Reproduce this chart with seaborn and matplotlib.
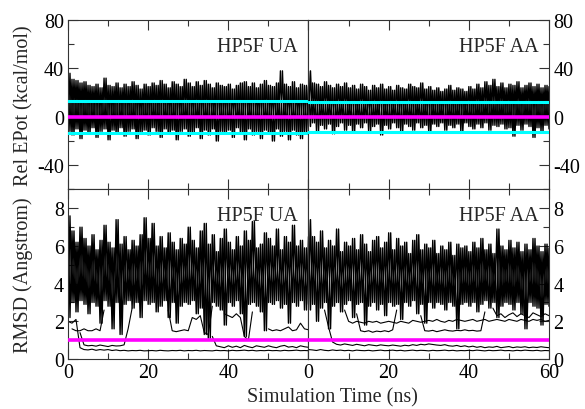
import numpy as np
import pandas as pd
import matplotlib
matplotlib.use("Agg")
import matplotlib.pyplot as plt
import seaborn as sns
from matplotlib.ticker import MultipleLocator

nan = np.nan
time_ns = list(range(61))  # one reading per ns, 0..60

# --- Rel EPot (kcal/mol): peak / trough of the noisy trace in each ns ---
epot_ua_hi = [36, 31, 30, 28, 29, 26, 25, 27, 24, 32,
              26, 25, 28, 24, 27, 25, 29, 26, 23, 27,
              25, 28, 26, 30, 27, 24, 29, 27, 25, 31,
              28, 25, 29, 26, 30, 27, 24, 28, 26, 25,
              27, 23, 26, 28, 29, 25, 28, 24, 27, 30,
              26, 25, 28, 38, 27, 25, 29, 24, 27, 26, 25]
epot_ua_lo = [-12, -15, -10, -18, -11, -14, -9, -17, -12, -10,
              -19, -11, -14, -9, -16, -12, -10, -18, -13, -11,
              -15, -9, -12, -17, -10, -14, -11, -19, -12, -10,
              -16, -13, -9, -18, -11, -15, -10, -20, -12, -14,
              -11, -17, -9, -13, -19, -10, -15, -12, -18, -11,
              -14, -20, -10, -16, -12, -19, -11, -15, -18, -13, -12]
epot_aa_hi = [38, 28, 27, 25, 29, 26, 24, 27, 25, 28,
              24, 26, 23, 27, 25, 22, 26, 24, 27, 23,
              25, 22, 26, 24, 23, 27, 25, 24, 28, 23,
              25, 22, 24, 21, 23, 26, 22, 24, 23, 21,
              25, 23, 27, 24, 29, 26, 31, 25, 28, 24,
              27, 26, 29, 24, 26, 28, 25, 27, 24, 26, 25]
epot_aa_lo = [-8, -5, -12, -7, -10, -6, -14, -8, -5, -11,
              -7, -13, -6, -9, -5, -12, -8, -6, -15, -7,
              -10, -5, -9, -12, -6, -8, -11, -5, -9, -7,
              -13, -6, -8, -5, -11, -7, -9, -6, -12, -5,
              -8, -10, -6, -9, -5, -11, -7, -8, -6, -10,
              -9, -16, -7, -11, -6, -8, -17, -9, -12, -7, -10]
epot_ua_band = [12.8, -13.6]   # cyan lines
epot_aa_band = [12.2, -12.2]
epot_ref = 0.0                 # magenta line

# --- RMSD (Angstrom): bulk of trajectories, peak / trough per ns ---
rmsd_ua_hi = [7.6, 6.8, 6.2, 7.0, 6.4, 6.0, 6.6, 5.8, 6.3, 7.1,
              6.2, 5.9, 7.4, 6.1, 6.5, 5.8, 6.3, 6.0, 6.6, 7.5,
              6.4, 7.2, 6.0, 6.5, 5.9, 6.7, 6.2, 5.8, 6.4, 6.1,
              7.0, 6.3, 5.9, 6.8, 7.2, 6.1, 6.6, 5.7, 6.4, 6.9,
              6.2, 5.8, 6.5, 6.0, 6.8, 6.3, 7.3, 5.9, 6.1, 6.7,
              6.4, 6.0, 6.9, 5.8, 6.5, 6.2, 7.1, 6.0, 6.3, 5.9, 6.5]
rmsd_ua_lo = [2.2, 3.0, 2.5, 3.1, 2.9, 2.4, 3.0, 2.8, 1.9, 3.1,
              2.8, 1.6, 3.0, 1.3, 2.9, 3.1, 2.7, 3.0, 2.2, 3.1,
              2.9, 3.0, 2.5, 2.8, 3.1, 2.2, 3.0, 1.9, 2.8, 3.0,
              2.9, 3.1, 2.4, 2.7, 1.3, 1.1, 3.0, 2.8, 2.6, 1.8,
              3.0, 2.8, 3.1, 2.4, 1.2, 2.9, 3.0, 2.8, 2.5, 1.5,
              3.0, 2.9, 3.1, 2.7, 2.9, 1.9, 3.0, 2.8, 3.1, 2.6, 2.9]
rmsd_aa_hi = [7.4, 6.5, 6.2, 6.8, 5.9, 6.3, 6.0, 6.9, 5.7, 6.2,
              6.0, 6.4, 5.8, 6.6, 6.1, 5.7, 6.3, 6.5, 5.9, 6.2,
              6.7, 5.8, 6.4, 6.0, 6.2, 5.6, 6.3, 6.6, 5.8, 6.1,
              5.9, 6.3, 5.6, 6.0, 5.8, 6.2, 5.5, 6.1, 5.9, 6.0,
              5.7, 6.2, 5.9, 6.4, 5.8, 6.1, 5.6, 6.9, 6.0, 5.8,
              6.3, 5.9, 6.2, 5.7, 6.1, 5.8, 6.4, 6.0, 5.7, 6.1, 5.9]
rmsd_aa_lo = [2.6, 2.9, 2.0, 2.7, 3.0, 1.6, 2.8, 3.0, 2.5, 2.9,
              3.1, 2.2, 2.9, 3.0, 1.8, 2.8, 3.0, 2.6, 2.9, 2.3,
              3.0, 2.8, 2.9, 2.1, 3.0, 2.8, 3.1, 2.4, 2.9, 1.9,
              3.0, 2.7, 3.0, 2.9, 2.6, 3.0, 2.8, 1.6, 2.9, 3.0,
              2.8, 3.0, 2.5, 2.9, 3.1, 2.7, 3.0, 2.2, 2.8, 3.0,
              2.9, 2.6, 3.0, 2.4, 1.6, 3.0, 2.8, 2.7, 1.8, 2.9, 2.8]

# --- RMSD: trajectories that sit below the bulk (nan = inside the bulk) ---
rmsd_ua_low = [
    [2.0, 1.9, 2.1, 0.6, 0.5, 0.48, 0.52, 0.46, 0.5, 0.47,
     0.5, 0.45, 0.48, 0.44, 0.46, 0.43, 0.45, 0.44, 0.46, 0.43,
     0.44, 0.45, 0.43, 0.46, 0.44, 0.43, 0.45, 0.44, 0.46, 0.43,
     0.45, 0.44, 0.46, 0.43, 0.45, 0.44, 0.43, 0.46, 0.44, 0.45,
     0.43, 0.46, 0.44, 0.45, 0.47, 0.44, 0.46, 0.43, 0.45, 0.44,
     0.46, 0.44, 0.45, 0.43, 0.46, 0.44, 0.45, 0.47, 0.44, 0.45, 0.44],
    [nan, 1.6, 1.5, 1.5, 1.6, 1.5, 1.5, 1.6, 1.5, 2.6]
    + [nan] * 26
    + [1.2, 0.7, 0.65, 0.6, 0.7, 0.62, 0.68, 0.6, 0.72, 0.65,
       0.6, 0.7, 0.66, 0.62, 0.7, 0.64, 0.6, 0.68, 0.72, 0.63,
       0.66, 0.6, 0.7, 0.65, 0.62],
    [nan, nan, nan, 1.4, 0.75, 0.7, 0.72, 0.68, 0.74, 0.7,
     0.66, 0.72, 0.69, 0.7, 0.75, 1.6, 2.7]
    + [nan] * 8
    + [2.6, 1.5, 1.45, 1.5, 1.55, 1.5, 2.2, 2.1, 2.3, 1.4, 1.3, 2.8]
    + [nan] * 24,
    [nan] * 39
    + [2.4, 2.3, 2.2, 2.4, 2.2, 1.2, 1.0, 2.5, nan, nan, nan,
       1.6, 1.5, 1.55, 1.5, 1.6, 1.7, 1.5, 1.55, 1.9, 1.6, 1.55],
]
rmsd_aa_low = [
    [0.5, 0.48, 0.45, 0.5, 0.46, 0.44, 0.48, 0.45, 0.47, 0.44,
     0.46, 0.43, 0.47, 0.45, 0.44, 0.46, 0.43, 0.45, 0.47, 0.44,
     0.45, 0.47, 0.44, 0.46, 0.43, 0.45, 0.47, 0.44, 0.46, 0.45,
     0.43, 0.46, 0.44, 0.45, 0.47, 0.44, 0.46, 0.43, 0.45, 0.44,
     0.46, 0.44, 0.47, 0.45, 0.43, 0.46, 0.44, 0.45, 0.47, 0.44,
     0.45, 0.43, 0.46, 0.44, 0.47, 0.45, 0.44, 0.46, 0.43, 0.45, 0.44],
    [nan, nan, nan, nan, 2.6, 1.7, 0.9, 0.78, 0.74, 0.8,
     0.76, 0.72, 0.78, 0.74, 0.7, 0.76, 0.73, 0.7, 0.75, 0.72,
     0.7, 0.74, 0.71, 0.68, 0.73, 0.7, 0.76, 0.72, 0.78, 0.75,
     0.8, 0.77, 0.74, 0.72, 0.76, 0.7, 0.68, 0.72, 0.66, 0.7,
     0.64, 0.68, 0.62, 0.66, 0.6, 0.64, 0.62, 0.67, 0.6, 0.63,
     0.66, 0.6, 0.64, 0.62, 0.65, 0.6, 0.63, 0.61, 0.65, 0.62, 0.6],
    [nan] * 9
    + [2.6, 2.0, 1.9, 2.0, 1.95, 1.9, 2.0, 1.95, 2.0, 1.9, 1.95,
       2.0, 1.95, 1.9, 2.0, 1.95, 1.9, 2.05, 2.0, 1.95, 2.0,
       2.05, 2.0, 2.1, 2.0, 1.95, 2.05, 2.0, 2.1, 2.05, 2.0,
       2.05, 2.1, 2.0, 2.05, 2.1, 2.0, 2.05, 2.1, 2.05, 2.0,
       2.1, 2.05, 2.0, 2.1, 2.05, 2.0, 2.1, 2.05, 2.1, 2.0, 2.05],
    [nan] * 12
    + [2.4, 1.5, 1.45, 1.5, 1.42, 1.48, 1.45, 1.5, 1.45, 1.55, 2.6]
    + [nan] * 5
    + [2.3, 1.5, 1.48, 1.52, 1.45, 1.5, 1.55, 1.5, 1.48, 1.52,
       1.5, 1.55, 1.5, 1.52, 1.48, 1.5, 2.5]
    + [nan] * 16,
    [nan] * 46
    + [2.7, 2.3, 2.4, 2.2, 2.35, 2.45, 2.25, 2.4, 2.3, 2.2,
       2.45, 2.35, 2.25, 2.4, 2.3],
]
rmsd_ref = 1.0

panel_titles = ["HP5F UA", "HP5F AA"]


def zigzag(hi, lo):
    # peak and trough in both phases, so the crossing strokes read as a dense noisy band
    t0 = np.array(time_ns, dtype=float)
    a = pd.DataFrame({"t": np.column_stack([t0, t0 + 0.5]).ravel(),
                      "v": np.column_stack([hi, lo]).ravel(), "seg": 0})
    b = pd.DataFrame({"t": np.column_stack([t0, t0 + 0.5]).ravel(),
                      "v": np.column_stack([lo, hi]).ravel(), "seg": 1})
    return pd.concat([a, b], ignore_index=True)


def segments(vals):
    # split at nan gaps so lineplot doesn't bridge them
    v = np.asarray(vals, dtype=float)
    df = pd.DataFrame({"t": time_ns, "v": v, "seg": np.cumsum(np.isnan(v))})
    return df.dropna()


def draw(ax, df, lw=0.8):
    sns.lineplot(data=df, x="t", y="v", units="seg", estimator=None,
                 color="black", lw=lw, ax=ax, legend=False)


sns.set_style("ticks")
plt.rcParams["font.family"] = ["Liberation Serif", "DejaVu Serif"]
plt.rcParams["font.size"] = 14.5
plt.rcParams["axes.unicode_minus"] = False

fig, axes = plt.subplots(2, 2, figsize=(5.85, 4.10), dpi=100)
fig.subplots_adjust(left=0.1162, right=0.9385, top=0.9488, bottom=0.122,
                    hspace=0, wspace=0)

epot = [(epot_ua_hi, epot_ua_lo, epot_ua_band), (epot_aa_hi, epot_aa_lo, epot_aa_band)]
rmsd = [(rmsd_ua_hi, rmsd_ua_lo, rmsd_ua_low), (rmsd_aa_hi, rmsd_aa_lo, rmsd_aa_low)]

for col in range(2):
    ax = axes[0, col]
    hi, lo, band = epot[col]
    draw(ax, zigzag(hi, lo), lw=1.0)
    for b in band:
        ax.axhline(b, color="#00FFFF", lw=2.2, zorder=5)
    ax.axhline(epot_ref, color="#FF00FF", lw=2.6, zorder=5)
    ax.set_ylim(-60, 80)
    ax.yaxis.set_major_locator(MultipleLocator(40))
    ax.yaxis.set_minor_locator(MultipleLocator(20))

    ax = axes[1, col]
    hi, lo, low = rmsd[col]
    draw(ax, zigzag(hi, lo), lw=1.0)
    for tr in low:
        draw(ax, segments(tr))
    ax.axhline(rmsd_ref, color="#FF00FF", lw=2.6, zorder=5)
    ax.set_ylim(0, 9)
    ax.yaxis.set_major_locator(MultipleLocator(2))
    ax.yaxis.set_minor_locator(MultipleLocator(1))

for i, ax in enumerate(axes.flat):
    row, col = divmod(i, 2)
    ax.set_xlim(0, 60)
    ax.xaxis.set_major_locator(MultipleLocator(20))
    ax.xaxis.set_minor_locator(MultipleLocator(10))
    ax.set_xlabel("")
    ax.set_ylabel("")
    for s in ax.spines.values():
        s.set_linewidth(0.8)
        s.set_color("#333333")
    ax.tick_params(which="both", direction="in", top=True, bottom=True,
                   left=(col == 0), right=(col == 1),
                   labelleft=(col == 0), labelright=(col == 1),
                   labelbottom=(row == 1), width=0.8, colors="#333333",
                   labelcolor="black")
    ax.tick_params(which="major", length=7, pad=3)
    ax.tick_params(which="minor", length=4)
    ax.text(0.955, 0.82, panel_titles[col], transform=ax.transAxes,
            ha="right", va="baseline", fontsize=14.5)

axes[1, 0].set_xticks([0, 20, 40, 60], ["0", "20", "40", ""])

axes[0, 0].set_ylabel("Rel EPot (kcal/mol)")
axes[1, 0].set_ylabel("RMSD (Angstrom)")
axes[0, 0].yaxis.set_label_coords(-0.145, 0.5)
axes[1, 0].yaxis.set_label_coords(-0.145, 0.5)
fig.text(0.568, 0.03, "Simulation Time (ns)", ha="center", va="center", fontsize=14.5)

plt.savefig("out.png", dpi=100)
plt.close()
